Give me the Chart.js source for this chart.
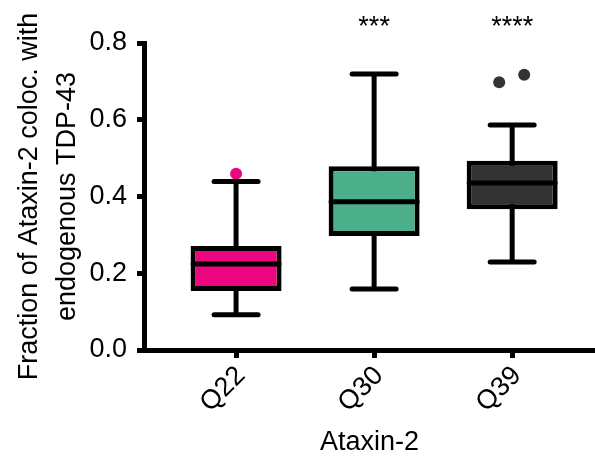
<!DOCTYPE html>
<html>
<head>
<meta charset="utf-8">
<script src="https://cdn.jsdelivr.net/npm/chart.js@4.4.1/dist/chart.umd.min.js"></script>
<style>
  html, body { margin: 0; padding: 0; background: #fff; }
  #wrap { width: 595px; height: 459px; }
</style>
</head>
<body>
<div id="wrap"><canvas id="box-chart" width="595" height="459"></canvas></div>
<script>
// DATA
const categories = ["Q22", "Q30", "Q39"];
const whiskerLow = [0.092, 0.159, 0.229];
const boxLow = [0.154, 0.297, 0.367];
const medians = [0.224, 0.386, 0.435];
const boxHigh = [0.271, 0.479, 0.493];
const whiskerHigh = [0.439, 0.719, 0.586];
const outliersQ22 = [{ x: 1, y: 0.459 }];
const outliersQ39 = [
  { x: 2.906, y: 0.698 },
  { x: 3.087, y: 0.717 },
];
const stars = ["", "***", "****"];
const yTicks = [0, 0.2, 0.4, 0.6, 0.8];

// STYLE
const boxColors = ["#ee0680", "#4caf8c", "#333333"];
const fontFamily = "'Liberation Sans', Arial, sans-serif";
const fontSize = 27;
const starLevel = 0.84; // y value where the significance stars sit

Chart.defaults.font.family = fontFamily;
Chart.defaults.color = "#000";

const ctx = document.getElementById("box-chart");

//* build datasets from the arrays
function toPoints(arr) {
  return arr.map((v, i) => ({ x: i + 1, y: v }));
}
function toRanges(lo, hi) {
  return lo.map((v, i) => ({ x: i + 1, y: [v, hi[i]] }));
}

// round line ends for caps / medians, then stars above each box
const boxPlotPlugin = {
  id: "boxExtras",
  beforeDatasetsDraw(chart) {
    chart.ctx.save();
    chart.ctx.lineCap = "round";
  },
  afterDatasetsDraw(chart) {
    const c = chart.ctx;
    c.restore();
    const { x, y } = chart.scales;
    c.save();
    c.font = fontSize + "px " + fontFamily;
    c.fillStyle = "#000";
    c.textAlign = "center";
    c.textBaseline = "middle";
    stars.forEach((s, i) => {
      if (s) c.fillText(s, x.getPixelForValue(i + 1), y.getPixelForValue(starLevel));
    });
    c.restore();
  },
};

new Chart(ctx, {
  type: "bar",
  data: {
    datasets: [
      // medians (top-most)
      {
        type: "line",
        data: toPoints(medians),
        showLine: false,
        pointStyle: "line",
        pointRadius: 43,
        pointHoverRadius: 43,
        pointBorderWidth: 5,
        pointBorderColor: "#000",
        order: 0,
      },
      // whisker caps
      {
        type: "line",
        data: toPoints(whiskerLow).concat(toPoints(whiskerHigh)),
        showLine: false,
        pointStyle: "line",
        pointRadius: 22,
        pointHoverRadius: 22,
        pointBorderWidth: 5,
        pointBorderColor: "#000",
        order: 0,
      },
      // outliers
      {
        type: "line",
        data: outliersQ22,
        showLine: false,
        pointRadius: 6,
        pointBorderWidth: 0,
        pointBackgroundColor: boxColors[0],
        order: 0,
      },
      {
        type: "line",
        data: outliersQ39,
        showLine: false,
        pointRadius: 6,
        pointBorderWidth: 0,
        pointBackgroundColor: boxColors[2],
        order: 0,
      },
      // boxes
      {
        data: toRanges(boxLow, boxHigh),
        backgroundColor: boxColors,
        borderColor: "#000",
        borderWidth: 5,
        borderSkipped: false,
        inflateAmount: 0,
        barThickness: 91,
        grouped: false,
        order: 1,
      },
      // whisker stems
      {
        data: toRanges(whiskerLow, whiskerHigh),
        backgroundColor: "#000",
        borderWidth: 0,
        inflateAmount: 0,
        barThickness: 5,
        grouped: false,
        order: 2,
      },
    ],
  },
  options: {
    animation: false,
    responsive: false,
    maintainAspectRatio: false,
    layout: { autoPadding: false, padding: { top: 43, right: 0, left: 0, bottom: 0 } },
    plugins: {
      legend: { display: false },
      tooltip: { enabled: false },
    },
    scales: {
      x: {
        type: "linear",
        offset: false,
        min: 0.333,
        max: 3.6,
        afterBuildTicks: (s) => {
          s.ticks = categories.map((c, i) => ({ value: i + 1 }));
        },
        afterFit: (s) => {
          s.height = 109;
        },
        ticks: {
          callback: (v) => categories[v - 1],
          minRotation: 45,
          maxRotation: 45,
          padding: 2,
          labelOffset: 5,
          font: { size: fontSize },
          color: "#000",
        },
        grid: {
          offset: false,
          drawOnChartArea: false,
          drawTicks: true,
          tickLength: 8,
          lineWidth: 5,
          color: "#000",
        },
        border: { display: true, width: 5, color: "#000" },
        title: {
          display: true,
          text: "Ataxin-2",
          font: { size: fontSize },
          color: "#000",
          padding: { top: 0, bottom: 0 },
        },
      },
      y: {
        min: 0,
        max: 0.8,
        afterBuildTicks: (s) => {
          s.ticks = yTicks.map((v) => ({ value: v }));
        },
        afterFit: (s) => {
          s.width = 144;
        },
        ticks: {
          callback: (v) => v.toFixed(1),
          padding: 10,
          font: { size: fontSize },
          color: "#000",
        },
        grid: {
          drawOnChartArea: false,
          drawTicks: true,
          tickLength: 7,
          lineWidth: 5,
          color: "#000",
        },
        border: { display: true, width: 5, color: "#000" },
        title: {
          display: true,
          text: ["Fraction of Ataxin-2 coloc. with", "endogenous TDP-43"],
          font: { size: fontSize, lineHeight: 1.39 },
          color: "#000",
          padding: { top: 11, bottom: 0 },
        },
      },
    },
  },
  plugins: [boxPlotPlugin],
});
</script>
</body>
</html>
